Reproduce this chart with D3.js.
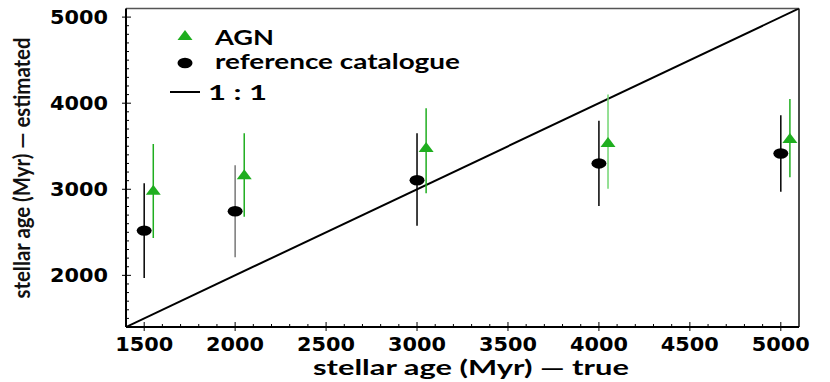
<!DOCTYPE html>
<html>
<head>
<meta charset="utf-8">
<script src="https://cdn.jsdelivr.net/npm/d3@7"></script>
<style>
  body { margin: 0; background: #fff; }
  svg { display: block; }
</style>
</head>
<body>
<div id="chart"></div>
<script>
// values
const refX = [1500, 2000, 3000, 4000, 5000];
const refY = [2520, 2745, 3105, 3300, 3415];
const refLo = [1970, 2210, 2575, 2805, 2970];
const refHi = [3070, 3280, 3650, 3795, 3860];
const refBarColor = ["#000", "#777", "#000", "#000", "#000"];

const agnX = [1550, 2050, 3050, 4050, 5050];
const agnY = [2995, 3175, 3490, 3550, 3595];
const agnLo = [2435, 2680, 2955, 3005, 3140];
const agnHi = [3525, 3650, 3940, 4100, 4050];
const agnBarColor = ["#1fae1f", "#1fae1f", "#1fae1f", "#72d672", "#1fae1f"];

const xTicks = [1500, 2000, 2500, 3000, 3500, 4000, 4500, 5000];
const yTicks = [2000, 3000, 4000, 5000];
const domain = [1400, 5100];

const width = 830, height = 382;
const plotL = 126, plotR = 799, plotT = 8.5, plotB = 327;

const svg = d3.select("#chart").append("svg")
    .attr("width", width)
    .attr("height", height);

const x = d3.scaleLinear().domain(domain).range([plotL, plotR]);
const y = d3.scaleLinear().domain(domain).range([plotB, plotT]);

svg.append("clipPath").attr("id", "plotclip")
  .append("rect")
    .attr("x", plotL).attr("y", plotT)
    .attr("width", plotR - plotL).attr("height", plotB - plotT);

// frame
svg.append("line").attr("x1", plotL).attr("x2", plotR).attr("y1", plotT).attr("y2", plotT)
    .attr("stroke", "#555").attr("stroke-width", 1.5);
svg.append("line").attr("x1", plotR).attr("x2", plotR).attr("y1", plotT).attr("y2", plotB)
    .attr("stroke", "#111").attr("stroke-width", 1.5);

// minor ticks every 100
const minor = d3.range(1500, 5100, 100);
svg.append("g").selectAll("line").data(minor).join("line")
    .attr("x1", d => x(d)).attr("x2", d => x(d))
    .attr("y1", plotB).attr("y2", d => xTicks.includes(d) ? plotB - 5 : plotB - 3)
    .attr("stroke", "#000").attr("stroke-width", 1);
svg.append("g").selectAll("line").data(xTicks).join("line")
    .attr("x1", d => x(d)).attr("x2", d => x(d))
    .attr("y1", plotB + 4).attr("y2", plotB)
    .attr("stroke", "#000").attr("stroke-width", 1);

svg.append("g").selectAll("line").data(minor).join("line")
    .attr("y1", d => y(d)).attr("y2", d => y(d))
    .attr("x1", d => yTicks.includes(d) ? plotL - 4 : plotL).attr("x2", d => yTicks.includes(d) ? plotL + 5 : plotL + 3)
    .attr("stroke", "#000").attr("stroke-width", 1);

// axes lines
svg.append("line").attr("x1", plotL).attr("x2", plotL).attr("y1", plotT).attr("y2", plotB)
    .attr("stroke", "#000").attr("stroke-width", 2);
svg.append("line").attr("x1", plotL).attr("x2", plotR).attr("y1", plotB).attr("y2", plotB)
    .attr("stroke", "#000").attr("stroke-width", 2);

// tick labels
svg.append("g").selectAll("text").data(xTicks).join("text")
    .attr("x", d => x(d)).attr("y", 351)
    .attr("text-anchor", "middle")
    .attr("font-family", "DejaVu Sans").attr("font-weight", "bold").attr("font-size", 19)
    .attr("textLength", 58).attr("lengthAdjust", "spacingAndGlyphs")
    .text(d => d);
svg.append("g").selectAll("text").data(yTicks).join("text")
    .attr("x", 108).attr("y", d => y(d) + 7)
    .attr("text-anchor", "end")
    .attr("font-family", "DejaVu Sans").attr("font-weight", "bold").attr("font-size", 19)
    .attr("textLength", 58).attr("lengthAdjust", "spacingAndGlyphs")
    .text(d => d);

// axis titles
svg.append("text")
    .attr("x", 471).attr("y", 375)
    .attr("text-anchor", "middle")
    .attr("font-family", "Lato").attr("font-weight", "bold").attr("font-size", 21)
    .attr("textLength", 316).attr("lengthAdjust", "spacingAndGlyphs")
    .text("stellar age (Myr)  \u2014  true");
svg.append("text")
    .attr("transform", "translate(30,168) rotate(-90)")
    .attr("text-anchor", "middle")
    .attr("font-family", "Lato").attr("font-weight", "bold").attr("font-size", 23)
    .attr("textLength", 261).attr("lengthAdjust", "spacingAndGlyphs")
    .attr("fill", "#111")
    .text("stellar age (Myr)  \u2014  estimated");

// 1:1 line
const plot = svg.append("g").attr("clip-path", "url(#plotclip)");
plot.append("line")
    .attr("x1", x(domain[0])).attr("y1", y(domain[0]))
    .attr("x2", x(domain[1])).attr("y2", y(domain[1]))
    .attr("stroke", "#000").attr("stroke-width", 2);

// error bars
plot.append("g").selectAll("line").data(refX).join("line")
    .attr("x1", d => x(d)).attr("x2", d => x(d))
    .attr("y1", (d, i) => y(refLo[i])).attr("y2", (d, i) => y(refHi[i]))
    .attr("stroke", (d, i) => refBarColor[i]).attr("stroke-width", 1.5);
plot.append("g").selectAll("line").data(agnX).join("line")
    .attr("x1", d => x(d)).attr("x2", d => x(d))
    .attr("y1", (d, i) => y(agnLo[i])).attr("y2", (d, i) => y(agnHi[i]))
    .attr("stroke", (d, i) => agnBarColor[i]).attr("stroke-width", 1.5);

// markers
function triPath(cx, cy) {
    return "M" + (cx - 7.5) + "," + (cy + 5) + "L" + (cx + 7.5) + "," + (cy + 5) +
        "L" + cx + "," + (cy - 5) + "Z";
}
plot.append("g").selectAll("ellipse").data(refX).join("ellipse")
    .attr("cx", d => x(d)).attr("cy", (d, i) => y(refY[i]))
    .attr("rx", 7.5).attr("ry", 5.2)
    .attr("fill", "#000");
plot.append("g").selectAll("path").data(agnX).join("path")
    .attr("d", (d, i) => triPath(x(d), y(agnY[i])))
    .attr("fill", "#1fae1f");

// legend
const legend = svg.append("g");
legend.append("path").attr("d", triPath(185, 35)).attr("fill", "#1fae1f");
legend.append("ellipse").attr("cx", 185).attr("cy", 63).attr("rx", 7.5).attr("ry", 5.2).attr("fill", "#000");
legend.append("line").attr("x1", 170).attr("x2", 200).attr("y1", 92).attr("y2", 92)
    .attr("stroke", "#000").attr("stroke-width", 2);
const legendText = [
    { t: "AGN", x: 215, y: 45, w: 59 },
    { t: "reference catalogue", x: 215, y: 69, w: 245 },
    { t: "1 : 1", x: 208, y: 100, w: 59 }
];
legend.selectAll("text").data(legendText).join("text")
    .attr("x", d => d.x).attr("y", d => d.y)
    .attr("font-family", "Lato").attr("font-weight", "bold").attr("font-size", 20.5)
    .attr("textLength", d => d.w).attr("lengthAdjust", "spacingAndGlyphs")
    .text(d => d.t);
</script>
</body>
</html>
